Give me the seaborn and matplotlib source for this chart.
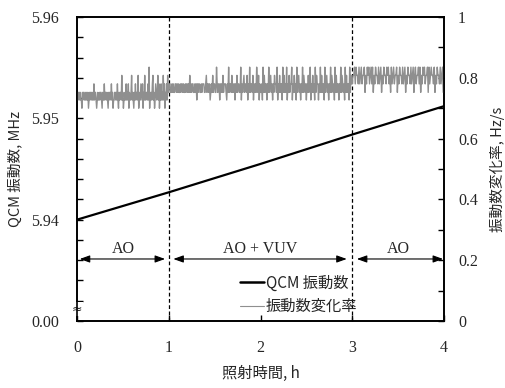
import numpy as np
import pandas as pd
import matplotlib
matplotlib.use("Agg")
import matplotlib.pyplot as plt
from matplotlib.lines import Line2D
import seaborn as sns

# QCM frequency (MHz) at each hour of irradiation
hours = [0, 1, 2, 3, 4]
qcm_freq_mhz = [5.9400, 5.9427, 5.9455, 5.9484, 5.9512]

# Frequency change rate (Hz/s): readings are quantised to these levels
rate_levels = [0.700, 0.727, 0.752, 0.780, 0.808, 0.835]
# level index of each reading, one string per irradiation phase
rate_ao_first = ("21122121102122112121201212211213122101211212210211312212"
                 "10212213120112212131021221412011213121302112412102131221"
                 "40121321302141122131502121341201321241302131214130213142")
rate_ao_vuv = ("23322323223323232232332322323323242323322323132332232333"
               "22342332312324233225323313232423332132523324232313242332"
               "25132342332413252332413232532413223152423313252342313243"
               "32513242331524232513242335132423152342313252432313242351"
               "32423152433132524233152342313252432315242331325243231524"
               "23315243")
rate_ao_last = ("34453544353453445243545345352435443534524354435453425345"
                "34452435443534524354435345245344535243545344525345443524"
                "3544353452")

phases = [(0.0, 1.0, rate_ao_first), (1.0, 3.0, rate_ao_vuv), (3.0, 4.0, rate_ao_last)]

# Phase annotations
phase_names = ["AO", "AO + VUV", "AO"]
phase_bounds = [(0, 1), (1, 3), (3, 4)]
x_ticks = [0, 1, 2, 3, 4]

sns.set_theme(style="ticks")
serif = "Liberation Serif"
cjk = ["Noto Sans CJK JP", "DejaVu Sans"]
plt.rcParams["font.family"] = cjk
plt.rcParams["axes.edgecolor"] = "black"
plt.rcParams["axes.linewidth"] = 1.2

# Build tidy frames
freq_df = pd.DataFrame({"時間": hours, "周波数": qcm_freq_mhz})
t_list, r_list = [], []
for start, end, codes in phases:
    n = len(codes)
    for i, c in enumerate(codes):
        t_list.append(start + (end - start) * i / n)
        r_list.append(rate_levels[int(c)])
t_list.append(4.0)
r_list.append(rate_levels[int(rate_ao_last[-1])])
rate_df = pd.DataFrame({"時間": t_list, "変化率": r_list})

fig = plt.figure(figsize=(5.06, 3.88), dpi=100)
ax = fig.add_axes([77 / 506, 1 - 321 / 388, 367 / 506, 304 / 388])
ax2 = ax.twinx()

sns.lineplot(data=rate_df, x="時間", y="変化率", ax=ax2, color="#8f8f8f",
             lw=1.0, estimator=None, legend=False)
sns.lineplot(data=freq_df, x="時間", y="周波数", ax=ax, color="black",
             lw=1.6, estimator=None, legend=False)

ax.set_xlim(0, 4)
ax.set_ylim(5.93, 5.96)
ax2.set_ylim(0, 1)

# Left axis: broken scale, bottom labelled 0.00
ax.set_yticks([5.93, 5.94, 5.95, 5.96])
ax.set_yticklabels(["0.00", "5.94", "5.95", "5.96"])
ax.set_yticks(np.arange(5.93, 5.9601, 0.002), minor=True)
ax.set_xticks(x_ticks)
ax.set_xticklabels([str(v) for v in x_ticks])

ax2.set_yticks([0, 0.2, 0.4, 0.6, 0.8, 1.0])
ax2.set_yticklabels(["0", "0.2", "0.4", "0.6", "0.8", "1"])
ax2.set_yticks(np.arange(0, 1.01, 0.1), minor=True)

for a in (ax, ax2):
    a.tick_params(which="both", direction="in", length=4, width=1, color="black")
    for s in a.spines.values():
        s.set_color("black")
        s.set_linewidth(1.2)
ax.tick_params(axis="y", which="both", right=False)
ax.tick_params(axis="x", which="both", top=False, pad=14)
ax.tick_params(axis="y", pad=13)
ax2.tick_params(axis="y", pad=10)
for lab in ax.get_xticklabels() + ax.get_yticklabels() + ax2.get_yticklabels():
    lab.set_fontfamily(serif)
    lab.set_fontsize(11.5)

ax.set_xlabel("照射時間, h", fontsize=11)
ax.xaxis.set_label_coords(0.5, -0.174)
ax.xaxis.label.set_va("center")
ax.set_ylabel("QCM 振動数, MHz", fontsize=10.5)
ax.yaxis.set_label_coords(-0.169, 0.5)
ax.yaxis.label.set_va("center")
ax2.set_ylabel("振動数変化率, Hz/s", fontsize=10.5, rotation=90)
ax2.yaxis.set_label_coords(1.145, 0.5)
ax2.yaxis.label.set_va("center")

# Axis break mark
ax.text(0, 5.9312, "≈", fontsize=9, ha="center", va="center", family="DejaVu Sans",
        bbox=dict(facecolor="white", edgecolor="none", pad=0.2), zorder=10,
        clip_on=False)

# Phase boundaries
for xb in (1, 3):
    ax.axvline(xb, color="black", lw=0.9, ls=(0, (3, 2)))

# Phase arrows and names
arrow_gap = [(0.03, 0.96), (1.05, 2.94), (3.05, 3.99)]
for name, (a0, a1), (g0, g1) in zip(phase_names, phase_bounds, arrow_gap):
    ax2.annotate("", xy=(g1, 0.204), xytext=(g0, 0.204),
                 arrowprops=dict(arrowstyle="<|-|>,head_length=0.5,head_width=0.18",
                                 color="black", lw=0.8, shrinkA=0, shrinkB=0))
    ax2.text((a0 + a1) / 2, 0.237, name, ha="center", va="center",
             family=serif, fontsize=11.5)

handles = [Line2D([], [], color="black", lw=1.8),
           Line2D([], [], color="#8f8f8f", lw=0.8)]
ax2.legend(handles, ["QCM 振動数", "振動数変化率"], loc="upper left",
           bbox_to_anchor=(0.444, 0.152), frameon=False, fontsize=11,
           handlelength=1.6, handletextpad=0.08, borderpad=0, borderaxespad=0,
           labelspacing=0.4)

fig.savefig("out.png", dpi=100)
